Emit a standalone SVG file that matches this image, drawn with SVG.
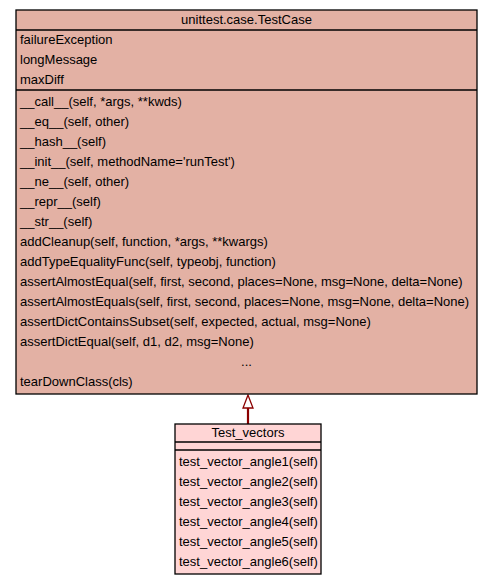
<svg xmlns="http://www.w3.org/2000/svg" width="493" height="584" viewBox="0 0 493 584">
<style>
text{font-family:"Liberation Sans",Arial,sans-serif;font-size:13px;fill:#000}
.box{stroke:#000;stroke-width:1.3}
.base{fill:#e3b1a4}
.derived{fill:#ffd5d5}
.sep{stroke:#000;stroke-width:1.3}
.c{text-anchor:middle}
</style>
<rect width="493" height="584" fill="#fff"/>
<g id="connectors">
<line x1="248" y1="424" x2="248" y2="407" stroke="#8b0000" stroke-width="2.2"/>
<polygon points="248,395 243,408 253,408" fill="#fff" stroke="#8b0000" stroke-width="1.3"/>
</g>
<g id="TestCase">
<rect class="box base" x="16" y="10" width="461" height="384"/>
<line class="sep" x1="16" y1="30" x2="477" y2="30"/>
<line class="sep" x1="16" y1="90" x2="477" y2="90"/>
<text class="c" x="246.5" y="24">unittest.case.TestCase</text>
<text x="20" y="44">failureException</text>
<text x="20" y="64">longMessage</text>
<text x="20" y="84">maxDiff</text>
<text x="20" y="106">__call__(self, *args, **kwds)</text>
<text x="20" y="126">__eq__(self, other)</text>
<text x="20" y="146">__hash__(self)</text>
<text x="20" y="166">__init__(self, methodName='runTest')</text>
<text x="20" y="186">__ne__(self, other)</text>
<text x="20" y="206">__repr__(self)</text>
<text x="20" y="226">__str__(self)</text>
<text x="20" y="246">addCleanup(self, function, *args, **kwargs)</text>
<text x="20" y="266">addTypeEqualityFunc(self, typeobj, function)</text>
<text x="20" y="286">assertAlmostEqual(self, first, second, places=None, msg=None, delta=None)</text>
<text x="20" y="306">assertAlmostEquals(self, first, second, places=None, msg=None, delta=None)</text>
<text x="20" y="326">assertDictContainsSubset(self, expected, actual, msg=None)</text>
<text x="20" y="346">assertDictEqual(self, d1, d2, msg=None)</text>
<text class="c" x="246.5" y="366">...</text>
<text x="20" y="386">tearDownClass(cls)</text>
</g>
<g id="Test_vectors">
<rect class="box derived" x="175" y="424" width="146" height="150"/>
<line class="sep" x1="175" y1="442" x2="321" y2="442"/>
<line class="sep" x1="175" y1="450" x2="321" y2="450"/>
<text class="c" x="248" y="437">Test_vectors</text>
<text x="179" y="466">test_vector_angle1(self)</text>
<text x="179" y="486">test_vector_angle2(self)</text>
<text x="179" y="506">test_vector_angle3(self)</text>
<text x="179" y="526">test_vector_angle4(self)</text>
<text x="179" y="546">test_vector_angle5(self)</text>
<text x="179" y="566">test_vector_angle6(self)</text>
</g>
</svg>
